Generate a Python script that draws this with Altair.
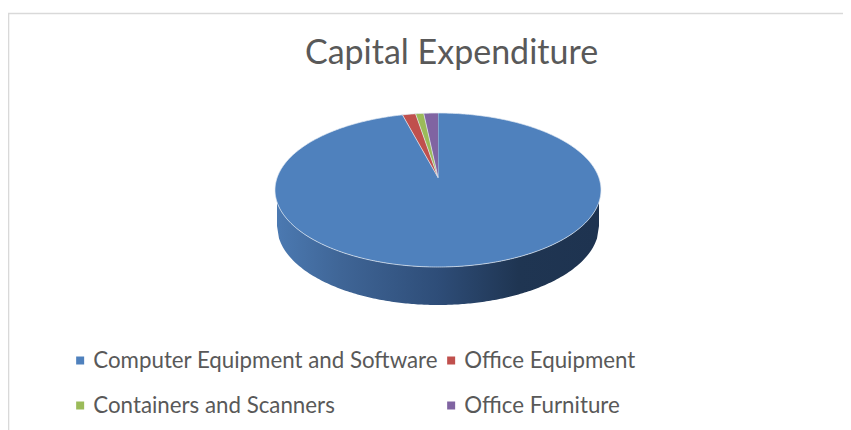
import math
import altair as alt
import pandas as pd

categories = ["Computer Equipment and Software", "Office Equipment", "Containers and Scanners", "Office Furniture"]
shares = [96.5, 1.3, 0.8, 1.4]
colors = ["#4f81bd", "#c0504d", "#9bbb59", "#8064a2"]
title_text = "Capital Expenditure"
FONT = "Lato"
W, H = 835, 422

# page pixel -> chart coordinate is a fixed -8 offset
CX, CY, RX, RY = 430.0, 182.0, 163.0, 77.0   # top face
AX, AY = 430.0, 169.5                        # apex of the wedges
BX, BY, BRX, BRY = 430.0, 218.0, 161.0, 79.0 # bottom face

rows = []
cum = 0.0
total = sum(shares)
for name, share in zip(categories, shares):
    a0 = cum / total * 2 * math.pi
    cum += share
    a1 = cum / total * 2 * math.pi
    n = max(4, int(share * 5))
    idx = 0
    rows.append(dict(slice=name, i=idx, x=AX, y=AY))
    for k in range(n + 1):
        idx += 1
        t = a0 + (a1 - a0) * k / n
        rows.append(dict(slice=name, i=idx, x=CX + RX * math.sin(t), y=CY - RY * math.cos(t)))
top_df = pd.DataFrame(rows)

side = []
for k in range(161):
    u = -1 + 2 * k / 160
    x = BX + BRX * u
    side.append(dict(
        x=x,
        y=BY + BRY * math.sqrt(max(0, 1 - u * u)),
        y2=CY + RY * math.sqrt(max(0, 1 - ((x - CX) / RX) ** 2)),
    ))
side_df = pd.DataFrame(side)

xs = alt.Scale(domain=[0, W], range=[0, W], nice=False, zero=False)
ys = alt.Scale(domain=[0, H], range=[0, H], nice=False, zero=False)

frame_top = alt.Chart(pd.DataFrame({"a": [0]})).mark_rule(color="#d9d9d9", strokeWidth=1.6).encode(
    x=alt.value(0), x2=alt.value(W), y=alt.value(5.5))
frame_left = alt.Chart(pd.DataFrame({"a": [0]})).mark_rule(color="#d9d9d9", strokeWidth=1.6).encode(
    x=alt.value(0.5), y=alt.value(5.5), y2=alt.value(H))

gradient = alt.Gradient(
    gradient="linear", x1=0, x2=1, y1=0, y2=0,
    stops=[
        alt.GradientStop(color="#4b79b1", offset=0),
        alt.GradientStop(color="#3f6596", offset=0.2),
        alt.GradientStop(color="#2e4d78", offset=0.5),
        alt.GradientStop(color="#1f3552", offset=0.75),
        alt.GradientStop(color="#1e3350", offset=1),
    ],
)
side_layer = alt.Chart(side_df).mark_area(fill=gradient, line=False).encode(
    x=alt.X("x:Q", scale=xs, axis=None),
    y=alt.Y("y:Q", scale=ys, axis=None),
    y2="y2:Q",
)

top_layer = alt.Chart(top_df).mark_line(stroke="#e4ebf4", strokeWidth=0.7, strokeJoin="round").encode(
    x=alt.X("x:Q", scale=xs, axis=None),
    y=alt.Y("y:Q", scale=ys, axis=None),
    order=alt.Order("i:Q"),
    detail="slice:N",
    fill=alt.Fill(
        "slice:N",
        scale=alt.Scale(domain=categories, range=colors),
        legend=alt.Legend(
            title=None, orient="none", legendX=61, legendY=340, direction="horizontal", columns=2,
            symbolType="square", symbolSize=64, symbolStrokeWidth=0,
            labelFont=FONT, labelFontSize=22.3, labelColor="#595959", labelLimit=500,
            labelOffset=2, rowPadding=20, columnPadding=2, clipHeight=25,
        ),
    ),
)

chart = alt.layer(frame_top, frame_left, side_layer, top_layer).properties(
    width=W, height=H,
    padding=0,
    autosize=alt.AutoSizeParams(type="none"),
    title=alt.TitleParams(
        text=title_text, font=FONT, fontSize=34, fontWeight="normal", color="#595959",
        anchor="middle", orient="top", dx=26, offset=-63,
    ),
).configure_view(stroke=None)

chart.save("out.html", embed_options={"renderer": "svg", "actions": False})
